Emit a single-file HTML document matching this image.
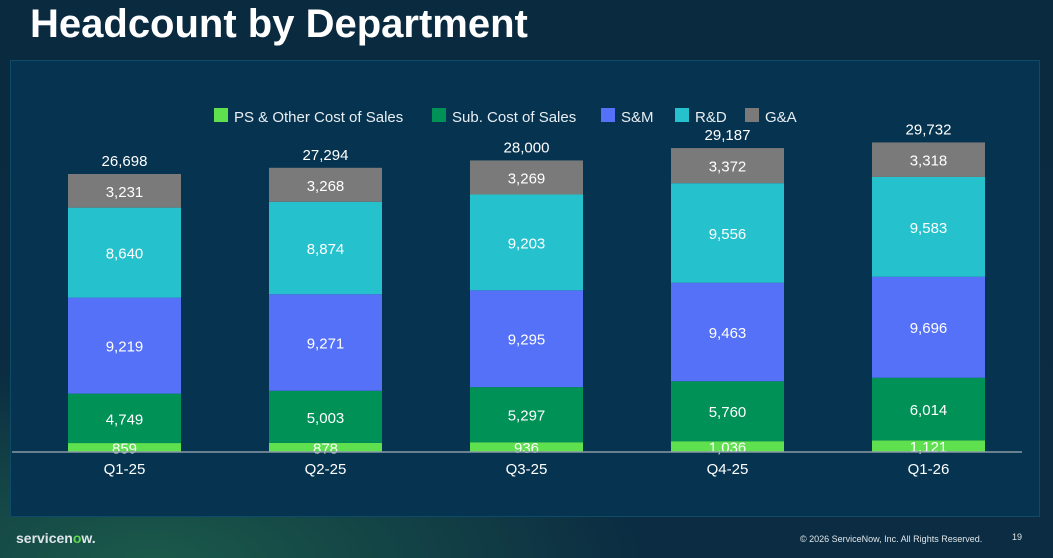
<!DOCTYPE html>
<html><head><meta charset="utf-8"><style>
body{margin:0;width:1053px;height:558px;overflow:hidden;font-family:"Liberation Sans",sans-serif;
background:radial-gradient(ellipse 500px 200px at 150px 560px,#1b5a4a 0%,rgba(11,42,61,0) 100%),linear-gradient(#0a2a40,#0b2c42);}
#title{position:absolute;left:30px;top:2px;font-size:40px;font-weight:bold;color:#fff;margin:0}
#panel{position:absolute;left:10px;top:60px;width:1030px;height:457px;background:#063450;border:1px solid #0e4b68;box-sizing:border-box}
svg{position:absolute;left:0;top:0}
.foot{position:absolute;color:#dfe6ea}
</style></head><body>
<h1 id="title">Headcount by Department</h1>
<div id="panel"></div>
<svg id="chart" width="1053" height="558"></svg>
<div class="foot" style="left:16px;top:530px;font-size:14px;font-weight:bold">servicen<span style="color:#62d84e">o</span>w.</div>
<div class="foot" style="left:800px;top:534px;font-size:9px">© 2026 ServiceNow, Inc. All Rights Reserved.</div>
<div class="foot" style="left:1012px;top:532px;font-size:9px">19</div>
<script>
const categories=["Q1-25","Q2-25","Q3-25","Q4-25","Q1-26"];
const seriesNames=["PS & Other Cost of Sales","Sub. Cost of Sales","S&M","R&D","G&A"];
const psOther=[859,878,936,1036,1121];
const subCost=[4749,5003,5297,5760,6014];
const sm=[9219,9271,9295,9463,9696];
const rd=[8640,8874,9203,9556,9583];
const ga=[3231,3268,3269,3372,3318];
const totals=[26698,27294,28000,29187,29732];
const series=[psOther,subCost,sm,rd,ga];
const colors=["#5fe04f","#009157","#5471f8","#25c2ce","#7a7a7a"];
const NS="http://www.w3.org/2000/svg";
const svg=document.getElementById("chart");
const base=452,k=278/26698;
const y=v=>base-v*k;
const xc=i=>124.5+i*201,bw=113;
function mk(t,a,txt){const e=document.createElementNS(NS,t);for(const n in a)e.setAttribute(n,a[n]);if(txt!=null)e.textContent=txt;svg.appendChild(e);return e;}
const fmt=v=>v.toLocaleString("en-US");
categories.forEach((c,i)=>{
 let cum=0;
 series.forEach((s,j)=>{
  const v=s[i];
  const r=mk("rect",{x:xc(i)-bw/2,y:y(cum+v),width:bw,height:v*k,fill:colors[j]});
  
  
  const t=mk("text",{x:xc(i),y:y(cum+v/2)+6,fill:"#fff","font-size":"15","text-anchor":"middle"},fmt(v));
  
  
  cum+=v;
 });
 const tt=mk("text",{x:xc(i),y:y(totals[i])-8,fill:"#fff","font-size":"15","text-anchor":"middle"},fmt(totals[i]));
 
 
 const xl=mk("text",{x:xc(i),y:474,fill:"#fff","font-size":"15","text-anchor":"middle"},c);
 
 
});
const ax=mk("line",{x1:12,x2:1022,y1:base,y2:base,stroke:"#8a9aa6","stroke-width":1.5});


const lx=[214,432,601,675,745];
seriesNames.forEach((n,j)=>{
 const r=mk("rect",{x:lx[j],y:108,width:14,height:14,fill:colors[j]});
 
 
 const t=mk("text",{x:lx[j]+20,y:122,fill:"#e8eef2","font-size":"15"},n);
 
 
});
</script>
</body></html>
